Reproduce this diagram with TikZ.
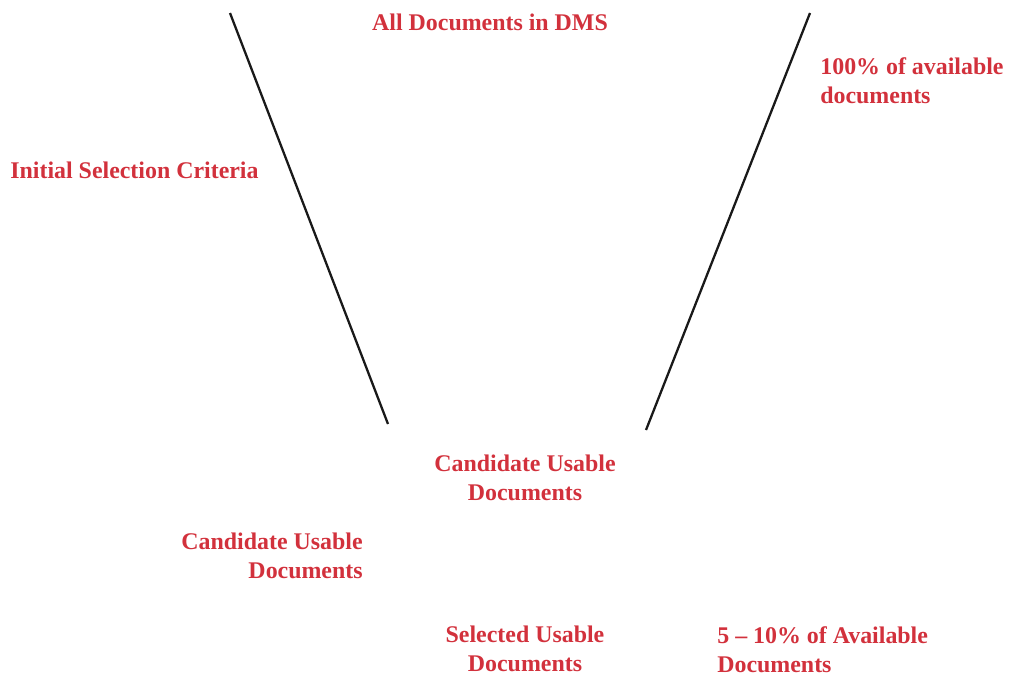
\documentclass[tikz,border=0pt]{standalone}
\usepackage{fontspec}
\setmainfont{Liberation Serif}
\usepackage{xcolor}
\definecolor{funnelred}{HTML}{D2313C}
\tikzset{label text/.style={text=funnelred,font=\bfseries\fontsize{13.6}{16.5}\selectfont,inner sep=0pt},
 funnel line/.style={draw=black!90,line width=1.3pt},
 }

\begin{document}
\begin{tikzpicture}[x=0.02cm,y=-0.02cm]
        \useasboundingbox (0,0) rectangle (1013,677);
        % funnel sides
        \coordinate (lefttop) at (230,13);
        \coordinate (leftbot) at (388,424);
        \coordinate (righttop) at (810,13);
        \coordinate (rightbot) at (646,430);
        \draw[funnel line] (lefttop) -- (leftbot);
        \draw[funnel line] (righttop) -- (rightbot);
        % labels
        \node[label text] (alldocs) at (490,22) {All Documents in DMS};
        \node[label text,anchor=west,align=left] (hundred) at (820,81) {100\% of available\\documents};
        \node[label text,anchor=west] (initial) at (10,170) {Initial Selection Criteria};
        \node[label text,align=center] (candmid) at (525,478) {Candidate Usable\\Documents};
        \node[label text,anchor=east,align=right] (candleft) at (363,556) {Candidate Usable\\Documents};
        \node[label text,align=center] (selected) at (525,649) {Selected Usable\\Documents};
        \node[label text,anchor=west,align=left] (fiveten) at (717,650) {5 -- 10\% of Available\\Documents};
    \end{tikzpicture}
\end{document}
